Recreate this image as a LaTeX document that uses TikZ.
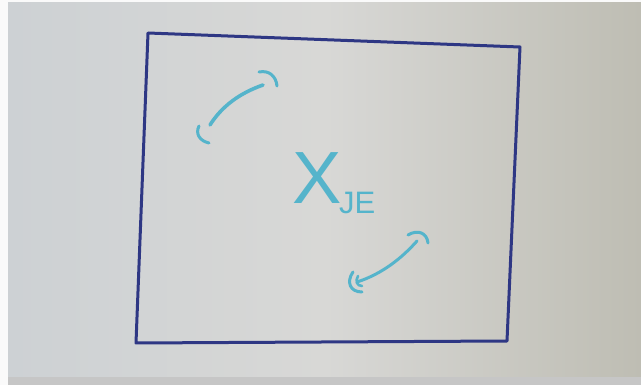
\documentclass[tikz,border=0pt]{standalone}
\usepackage{fontspec}
\setmainfont{Liberation Sans}
\begin{document}
\begin{tikzpicture}[x=1pt,y=-1pt,
  frame/.style={draw=navy,line width=3pt,line join=round,line cap=round},
  pen/.style={draw=cyanink,line width=3.6pt,line cap=round},
  label/.style={text=cyanink,inner sep=0pt}]
\definecolor{navy}{HTML}{2E3784}
\definecolor{cyanink}{HTML}{55B4CB}
\definecolor{paperL}{HTML}{CDD1D4}
\definecolor{paperM}{HTML}{D8D8D6}
\definecolor{paperR}{HTML}{BEBDB3}
\useasboundingbox (0,0) rectangle (641,385);
% background
\fill[white!96!gray] (0,0) rectangle (641,385);
\shade[left color=paperL,right color=paperR,middle color=paperM] (8,3) rectangle (641,377);
\fill[gray!45] (8,377) rectangle (641,385);
% frame
\coordinate (tl) at (148,33);
\coordinate (tr) at (520,47);
\coordinate (br) at (507,341);
\coordinate (bl) at (136,343);
\draw[frame] (tl) -- (tr) -- (br) -- (bl) -- cycle;
% upper stroke
\draw[pen] (210,125) .. controls (222,106) and (240,93) .. (263,85);
\draw[pen,line width=3pt] (199,126) .. controls (195,134) and (200,141) .. (209,143);
\draw[pen,line width=3pt] (259,72) .. controls (269,70) and (276,76) .. (277,86);
% lower stroke
\draw[pen,line width=3pt] (357,282) .. controls (382,274) and (402,258) .. (417,241);
\draw[pen,line width=3pt] (353,272) .. controls (346,282) and (350,292) .. (362,292);
\draw[pen,line width=2.6pt] (358,276) .. controls (355,281) and (357,286) .. (362,286);
\draw[pen,line width=3pt] (408,235) .. controls (418,229) and (427,233) .. (428,243);
% label
\node[label,font=\fontsize{74}{74}\selectfont] (x) at (317,178) {X};
\node[label,font=\fontsize{31}{31}\selectfont,anchor=base west] (je) at (339,214) {JE};
\end{tikzpicture}
\end{document}
